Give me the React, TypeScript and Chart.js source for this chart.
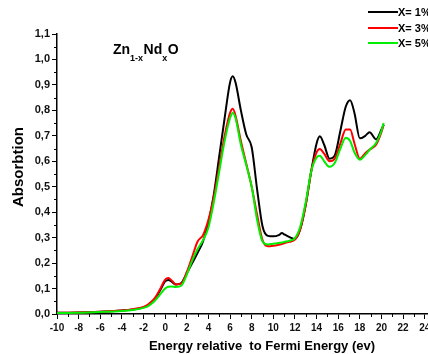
import React, { useEffect, useRef } from "react";
import { Chart, registerables } from "chart.js";

Chart.register(...registerables);

const energy = [-10, -8, -6, -4, -3, -2, -1.5, -1, -0.5, 0, 0.3, 0.6, 1, 1.5, 2, 2.5, 3, 3.5, 4, 4.5, 5, 5.5, 6, 6.25, 6.5, 7, 7.5, 8, 8.5, 9, 9.5, 10, 10.5, 10.8, 11, 11.5, 12, 12.5, 13, 13.5, 14, 14.3, 14.7, 15.2, 15.7, 16.2, 16.7, 17.1, 17.5, 18, 18.5, 18.9, 19.5, 20, 20.2];

const absorptionX1 = [0.005, 0.006, 0.009, 0.014, 0.018, 0.026, 0.036, 0.055, 0.09, 0.128, 0.134, 0.127, 0.116, 0.122, 0.16, 0.2, 0.24, 0.285, 0.36, 0.47, 0.62, 0.77, 0.91, 0.934, 0.91, 0.8, 0.705, 0.655, 0.49, 0.345, 0.307, 0.305, 0.31, 0.318, 0.313, 0.302, 0.295, 0.335, 0.43, 0.56, 0.67, 0.698, 0.665, 0.61, 0.625, 0.72, 0.815, 0.84, 0.79, 0.69, 0.7, 0.714, 0.686, 0.725, 0.744];

const absorptionX3 = [0.005, 0.006, 0.009, 0.014, 0.019, 0.028, 0.04, 0.06, 0.095, 0.135, 0.141, 0.132, 0.116, 0.12, 0.165, 0.225, 0.285, 0.31, 0.37, 0.46, 0.58, 0.7, 0.79, 0.806, 0.78, 0.68, 0.59, 0.5, 0.39, 0.29, 0.266, 0.268, 0.272, 0.275, 0.278, 0.284, 0.292, 0.335, 0.43, 0.56, 0.635, 0.648, 0.63, 0.6, 0.612, 0.67, 0.725, 0.725, 0.67, 0.61, 0.632, 0.646, 0.665, 0.715, 0.744];

const absorptionX5 = [0.004, 0.005, 0.008, 0.012, 0.016, 0.024, 0.033, 0.05, 0.075, 0.1, 0.107, 0.108, 0.106, 0.112, 0.155, 0.21, 0.255, 0.29, 0.34, 0.44, 0.56, 0.68, 0.77, 0.79, 0.77, 0.665, 0.585, 0.5, 0.37, 0.285, 0.273, 0.276, 0.279, 0.281, 0.283, 0.288, 0.298, 0.345, 0.44, 0.56, 0.615, 0.622, 0.6, 0.578, 0.595, 0.65, 0.692, 0.68, 0.635, 0.606, 0.625, 0.645, 0.672, 0.72, 0.75];

const seriesLabels = ["X= 1%", "X= 3%", "X= 5%"];
const xTitle = "Energy relative  to Fermi Energy (ev)";
const yTitle = "Absorbtion";

const toPoints = (ys: number[]) => ys.map((y, i) => ({ x: energy[i], y }));

const FONT = '"Liberation Sans", Arial, sans-serif';

const decorPlugin = {
  id: "decor",
  afterDraw(chart: any) {
    const ctx = chart.ctx;
    const xs = chart.scales.x;
    const ys = chart.scales.y;
    const area = chart.chartArea;
    ctx.save();
    ctx.strokeStyle = "#000";
    ctx.lineWidth = 1;
    // minor ticks
    for (let v = -9; v <= 24; v += 2) {
      const px = Math.round(xs.getPixelForValue(v)) + 0.5;
      ctx.beginPath();
      ctx.moveTo(px, area.bottom);
      ctx.lineTo(px, area.bottom + 3);
      ctx.stroke();
    }
    for (let k = 1; k < 22; k += 2) {
      const py = Math.round(ys.getPixelForValue(k * 0.05)) + 0.5;
      ctx.beginPath();
      ctx.moveTo(area.left, py);
      ctx.lineTo(area.left - 3, py);
      ctx.stroke();
    }
    // title
    ctx.fillStyle = "#000";
    ctx.textBaseline = "alphabetic";
    ctx.textAlign = "left";
    let tx = 113;
    const big = `bold 14px ${FONT}`;
    const small = `bold 9px ${FONT}`;
    const parts: [string, boolean][] = [["Zn", false], ["1-x", true], ["Nd", false], ["x", true], ["O", false]];
    for (const [t, sub] of parts) {
      ctx.font = sub ? small : big;
      ctx.fillText(t, tx, sub ? 61 : 54);
      tx += ctx.measureText(t).width + (sub ? 0.5 : 0);
    }
    // legend
    const ds = chart.data.datasets;
    ctx.textBaseline = "middle";
    ctx.font = `bold 11px ${FONT}`;
    const ly = [12, 28, 43];
    ds.forEach((d: any, i: number) => {
      ctx.strokeStyle = d.borderColor;
      ctx.lineWidth = 2;
      ctx.beginPath();
      ctx.moveTo(368, ly[i]);
      ctx.lineTo(398, ly[i]);
      ctx.stroke();
      ctx.fillStyle = "#000";
      ctx.fillText(seriesLabels[i], 398, ly[i] + 0.5);
    });
    // axis titles
    ctx.font = `bold 13px ${FONT}`;
    ctx.textAlign = "center";
    ctx.textBaseline = "alphabetic";
    ctx.fillText(xTitle, 262, 350);
    ctx.save();
    ctx.translate(23, 167);
    ctx.rotate(-Math.PI / 2);
    ctx.font = `bold 15px ${FONT}`;
    ctx.fillText(yTitle, 0, 0);
    ctx.restore();
    ctx.restore();
  },
};

export default function App() {
  const ref = useRef<HTMLCanvasElement>(null);
  useEffect(() => {
    if (!ref.current) return;
    const common = {
      pointRadius: 0,
      borderWidth: 2,
      cubicInterpolationMode: "monotone" as const,
      fill: false,
    };
    const chart = new Chart(ref.current, {
      type: "line",
      data: {
        datasets: [
          { label: seriesLabels[0], data: toPoints(absorptionX1), borderColor: "#000000", order: 3, ...common },
          { label: seriesLabels[1], data: toPoints(absorptionX3), borderColor: "#ff0000", order: 2, ...common },
          { label: seriesLabels[2], data: toPoints(absorptionX5), borderColor: "#00ee00", order: 1, ...common },
        ],
      },
      options: {
        animation: false,
        responsive: false,
        maintainAspectRatio: false,
        devicePixelRatio: 1,
        layout: { padding: { top: 34, right: 0, bottom: 0, left: 0 } },
        plugins: { legend: { display: false }, tooltip: { enabled: false }, title: { display: false } },
        scales: {
          x: {
            type: "linear",
            min: -10,
            max: 24.3,
            border: { display: true, color: "#000", width: 1.5 },
            grid: { display: true, drawOnChartArea: false, drawTicks: true, tickLength: 5, color: "#000", tickColor: "#000" },
            ticks: {
              stepSize: 2,
              includeBounds: false,
              maxRotation: 0,
              autoSkip: false,
              padding: 3,
              color: "#111",
              font: { family: FONT, size: 10, weight: "bold" },
            },
            afterFit(scale: any) {
              scale.height = 40;
              scale.paddingLeft = 0;
              scale.paddingRight = 0;
            },
          },
          y: {
            type: "linear",
            min: 0,
            max: 1.1,
            border: { display: true, color: "#000", width: 1.5 },
            grid: { display: true, drawOnChartArea: false, drawTicks: true, tickLength: 5, color: "#000", tickColor: "#000" },
            ticks: {
              stepSize: 0.1,
              autoSkip: false,
              padding: 2,
              color: "#111",
              font: { family: FONT, size: 11, weight: "bold" },
              callback: (v: any) => Number(v).toFixed(1).replace(".", ","),
            },
            afterFit(scale: any) {
              scale.width = 57;
              scale.paddingTop = 0;
              scale.paddingBottom = 0;
            },
          },
        },
      },
      plugins: [decorPlugin],
    });
    return () => chart.destroy();
  }, []);
  return (
    <div style={{ position: "fixed", left: 0, top: 0, width: 428, height: 354, background: "#fff" }}>
      <canvas ref={ref} width={428} height={354} style={{ width: 428, height: 354, display: "block" }} />
    </div>
  );
}
